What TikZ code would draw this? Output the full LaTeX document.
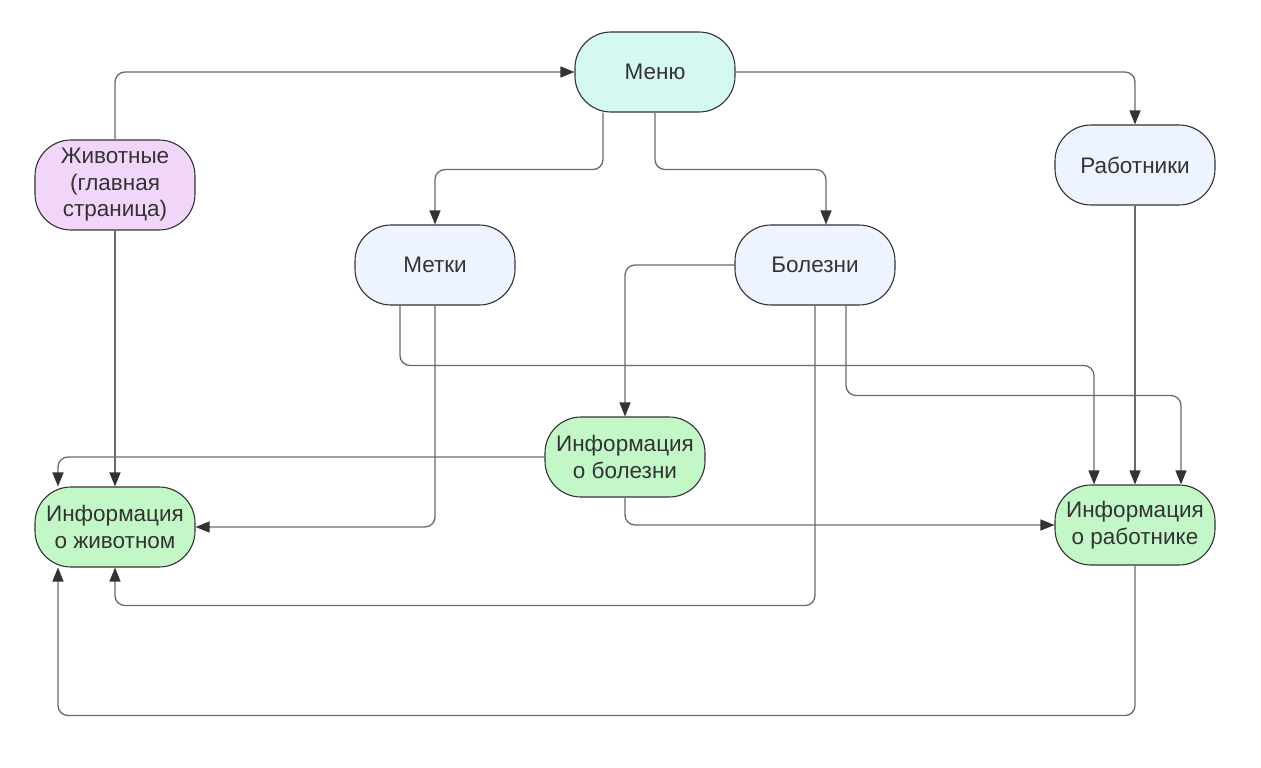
\documentclass[tikz,border=0pt]{standalone}
\usepackage{fontspec}
\setmainfont{Liberation Sans}
\usetikzlibrary{arrows.meta,calc}
\definecolor{menuc}{HTML}{D5F8F2}
\definecolor{bluec}{HTML}{EDF4FF}
\definecolor{purpc}{HTML}{F2D6FA}
\definecolor{greenc}{HTML}{C3F7C8}
\definecolor{edgec}{HTML}{333333}
\definecolor{linec}{HTML}{6A6A6A}
\tikzset{
  box/.style={draw=edgec,line width=1.1pt,rounded corners=36pt,minimum width=160pt,minimum height=80pt,inner sep=0pt,align=center,text=edgec,font=\fontsize{22.5}{26.5}\selectfont},
  conn/.style={draw=linec,line width=1.3pt,rounded corners=10pt,-{Triangle[length=14pt,width=11pt,color=edgec]}},
}
\begin{document}
\begin{tikzpicture}[x=1pt,y=-1pt]
\useasboundingbox (0,0) rectangle (1261,768);
\node[box,fill=menuc] (menu) at (655,72) {Меню};
\node[box,fill=bluec] (work) at (1135,165) {Работники};
\node[box,fill=purpc,minimum height=90pt] (anim) at (115,185) {Животные\\(главная\\страница)};
\node[box,fill=bluec] (tags) at (435,265) {Метки};
\node[box,fill=bluec] (dis) at (815,265) {Болезни};
\node[box,fill=greenc] (idis) at (625,457) {Информация\\о болезни};
\node[box,fill=greenc] (ianim) at (115,527) {Информация\\о животном};
\node[box,fill=greenc] (iwork) at (1135,525) {Информация\\о работнике};

\draw[conn] (anim.north) |- (menu.west);
\draw[conn] (menu.east) -| (work.north);
\draw[conn] ([xshift=-52pt]menu.south) -- ++(0,57) -| (tags.north);
\draw[conn] (menu.south) -- ++(0,57) -| ([xshift=11pt]dis.north);
\draw[conn] (dis.west) -| (idis.north);
\draw[conn] ([xshift=-35pt]tags.south) -- ++(0,60) -| ([xshift=-41pt]iwork.north);
\draw[conn] (tags.south) |- (ianim.east);
\draw[conn] ([xshift=31pt]dis.south) -- ++(0,90) -| ([xshift=46pt]iwork.north);
\draw[conn] (work.south) -- (iwork.north);
\draw[conn] (dis.south) -- ++(0,300) -| (ianim.south);
\draw[conn] (idis.west) -| ([xshift=-57pt]ianim.north);
\draw[conn] (anim.south) -- (ianim.north);
\draw[conn] (idis.south) |- (iwork.west);
\draw[conn] (iwork.south) -- ++(0,150) -| ([xshift=-57pt]ianim.south);
\end{tikzpicture}
\end{document}
